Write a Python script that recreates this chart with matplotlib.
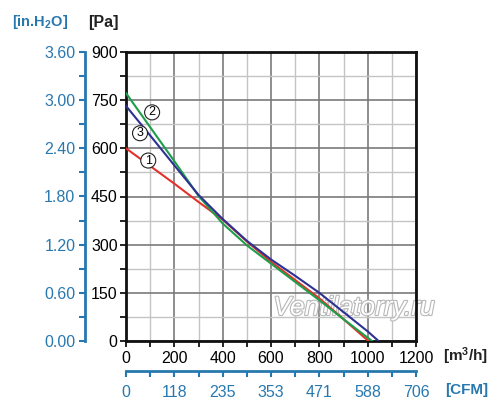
import matplotlib
matplotlib.use("Agg")
import matplotlib.pyplot as plt
import matplotlib.patheffects as pe
import numpy as np

plt.rcParams['font.family'] = ['Liberation Sans', 'DejaVu Sans']
plt.rcParams['mathtext.fontset'] = 'custom'
plt.rcParams['mathtext.rm'] = 'Liberation Sans'
plt.rcParams['mathtext.bf'] = 'Liberation Sans:bold'

# ---- data ----
red_x = [0, 100, 200, 300, 400, 500, 600, 700, 800, 900, 1003]
red_y = [600, 545, 490, 433, 378, 310, 247, 190, 133, 68, 0]
green_x = [0, 100, 200, 300, 400, 500, 600, 700, 800, 900, 1018]
green_y = [772, 666, 560, 452, 366, 298, 241, 184, 127, 68, 0]
blue_x = [0, 100, 200, 300, 400, 500, 600, 700, 800, 900, 1000, 1045]
blue_y = [732, 640, 547, 455, 380, 312, 254, 203, 150, 90, 30, 0]

x_ticks = [0, 200, 400, 600, 800, 1000, 1200]
y_ticks = [0, 150, 300, 450, 600, 750, 900]
cfm_labels = ['0', '118', '235', '353', '471', '588', '706']
inh2o_ticks = [0.0, 0.6, 1.2, 1.8, 2.4, 3.0, 3.6]
inh2o_labels = ['0.00', '0.60', '1.20', '1.80', '2.40', '3.00', '3.60']

curve_labels = ['1', '2', '3']
label_pos = [(92, 562), (108, 712), (58, 647)]

BLUE = '#2878b0'
W, H = 500, 413
fig = plt.figure(figsize=(W / 100, H / 100), dpi=100)

L, R, B, T = 126, 416, 341, 52
ax = fig.add_axes([L / W, 1 - B / H, (R - L) / W, (B - T) / H])
ax.set_xlim(0, 1200)
ax.set_ylim(0, 900)
ax.set_xticks(x_ticks)
ax.set_yticks(y_ticks)
ax.set_xticks(np.arange(0, 1201, 100), minor=True)
ax.set_yticks(np.arange(0, 901, 75), minor=True)
ax.grid(True, which='major', color='#7a7a7a', lw=1.2)
ax.grid(True, which='minor', color='#c4c4c4', lw=1.0)
ax.set_axisbelow(True)
for s in ax.spines.values():
    s.set_linewidth(2)
    s.set_color('#111111')
ax.tick_params(which='both', direction='out', length=4, width=1.3, color='#111111',
               labelsize=11.5, pad=2)
ax.tick_params(axis='x', pad=3)

ax.plot(red_x, red_y, color='#e4322b', lw=1.5, zorder=3)
ax.plot(green_x, green_y, color='#1d9e4a', lw=1.5, zorder=4)
ax.plot(blue_x, blue_y, color='#2e3192', lw=1.5, zorder=5)

for lab, (px, py) in zip(curve_labels, label_pos):
    ax.text(px, py, lab, fontsize=9, ha='center', va='center', zorder=6,
            bbox=dict(boxstyle='circle,pad=0.12', fc='white', ec='#222222', lw=0.8))

ax.text(943, 103, 'Ventilatorry.ru', fontsize=19, style='italic', color='white',
        ha='center', va='center', zorder=2,
        path_effects=[pe.withStroke(linewidth=1.6, foreground='#b8b8b8')])

# left blue axis (in. H2O)
axl = fig.add_axes([85 / W, 1 - B / H, 0.0001, (B - T) / H])
axl.set_ylim(0, 3.6)
axl.set_xticks([])
axl.set_yticks(inh2o_ticks)
axl.set_yticklabels(inh2o_labels)
axl.set_yticks(np.arange(0.3, 3.6, 0.6), minor=True)
for k in ['right', 'top', 'bottom']:
    axl.spines[k].set_visible(False)
axl.spines['left'].set_color(BLUE)
axl.spines['left'].set_linewidth(2)
axl.patch.set_visible(False)
axl.tick_params(which='both', direction='out', length=4, width=1.5, color=BLUE,
                labelcolor=BLUE, labelsize=11.5, pad=3)

# bottom blue axis (CFM)
axb = fig.add_axes([L / W, 1 - 371 / H, (R - L) / W, 0.0001])
axb.set_xlim(0, 1200)
axb.set_yticks([])
axb.set_xticks(x_ticks)
axb.set_xticklabels(cfm_labels)
axb.set_xticks(np.arange(100, 1200, 200), minor=True)
for k in ['left', 'right', 'top']:
    axb.spines[k].set_visible(False)
axb.spines['bottom'].set_color(BLUE)
axb.spines['bottom'].set_linewidth(2)
axb.patch.set_visible(False)
axb.tick_params(which='both', direction='out', length=4, width=1.5, color=BLUE,
                labelcolor=BLUE, labelsize=11.5, pad=6)

# unit labels
fig.text(12 / W, 1 - 22 / H, '[in.H$_\\mathbf{2}$O]', color=BLUE, fontsize=10.5,
         fontweight='bold', ha='left', va='center')
fig.text(88 / W, 1 - 22 / H, '[Pa]', color='#222222', fontsize=11.5,
         fontweight='bold', ha='left', va='center')
fig.text(443 / W, 1 - 356 / H, '$\\mathbf{[m^3/h]}$', color='#222222', fontsize=11,
         ha='left', va='center')
fig.text(445 / W, 1 - 390 / H, '[CFM]', color=BLUE, fontsize=11,
         fontweight='bold', ha='left', va='center')

fig.savefig('out.png', dpi=100)
